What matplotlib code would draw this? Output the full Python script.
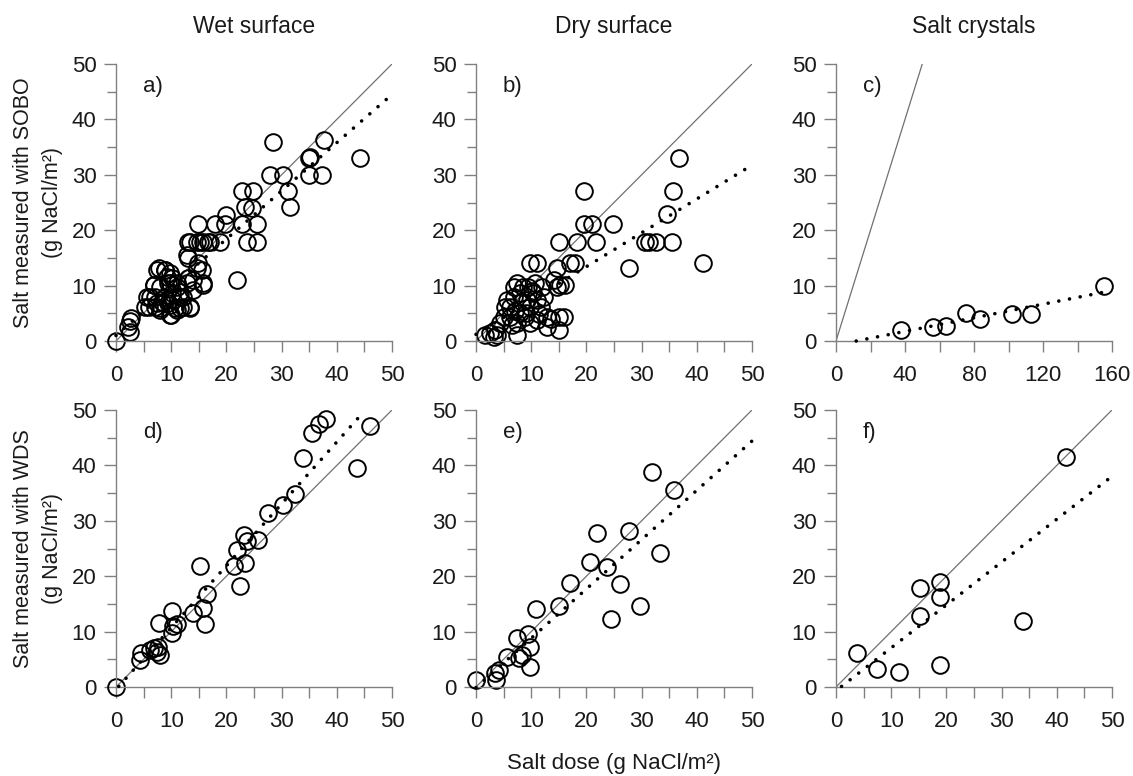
import matplotlib
matplotlib.use("Agg")
import matplotlib.pyplot as plt
import numpy as np
from matplotlib.ticker import MultipleLocator

plt.rcParams['font.family'] = ['Liberation Sans', 'DejaVu Sans']

# ---------------- data ----------------
col_titles = ["Wet surface", "Dry surface", "Salt crystals"]
row_labels = ["Salt measured with SOBO\n(g NaCl/m\u00b2)", "Salt measured with WDS\n(g NaCl/m\u00b2)"]
x_label = "Salt dose (g NaCl/m\u00b2)"
panel_tags = ["a)", "b)", "c)", "d)", "e)", "f)"]

a_x = [0, 2.5, 2.8, 2.2, 2.5, 5.6, 5.9, 6.8, 7.7, 7.1, 7.4, 8.0, 8.9, 9.2, 9.8, 10.1, 9.5, 10.0,
       10.7, 11.0, 11.6, 12.2, 13.4, 12.8, 13.1, 13.1, 14.0, 14.6, 15.8, 14.9, 14.6, 15.8, 17.0,
       18.8, 17.9, 20.0, 19.7, 21.9, 22.8, 22.8, 23.4, 23.7, 24.9, 24.6, 25.5, 25.5, 27.9, 28.5,
       30.3, 31.2, 31.5, 35.0, 35.1, 35.0, 37.4, 37.6, 44.2,
       12.8, 14.9, 15.5, 15.8, 7.4, 8.9, 9.8, 10.1, 11.0, 9.5, 8.0, 6.8, 6.2, 5.3, 7.1, 8.0, 9.8,
       11.6, 13.4, 12.2, 14.0, 13.1, 11.6, 10.4, 8.9, 8.3, 9.8, 11.0, 15.2, 16.7, 13.4]
a_y = [0, 3.6, 4.1, 2.6, 1.7, 8.0, 6.2, 10.1, 13.1, 8.0, 6.8, 5.9, 12.8, 11.6, 10.4, 8.6, 6.8, 4.7,
       5.9, 9.8, 8.0, 6.2, 6.2, 10.4, 14.9, 17.9, 11.0, 13.1, 10.1, 21.2, 17.9, 17.9, 17.9,
       17.9, 21.2, 22.7, 21.2, 11.1, 21.2, 27.0, 24.2, 17.9, 27.0, 24.0, 21.2, 17.9, 30.0, 35.9,
       30.0, 27.0, 24.1, 33.0, 33.3, 30.0, 30.0, 36.3, 33.0,
       15.5, 14.0, 12.8, 10.4, 12.8, 12.8, 12.2, 11.3, 10.4, 10.4, 9.8, 10.1, 8.0, 6.2, 6.2, 5.6, 4.7,
       5.9, 5.9, 8.0, 9.2, 11.3, 8.9, 7.4, 8.0, 7.1, 6.5, 5.6, 17.9, 17.9, 17.9]

b_x = [19.5, 19.5, 21.0, 24.9, 21.7, 18.3, 15.1, 9.8, 11.1, 17.1, 17.9, 14.7, 27.8, 30.7, 31.3,
       32.6, 35.5, 34.6, 35.6, 36.7, 41.2, 14.1, 15.3, 16.2, 14.7, 16.0, 15.0, 15.0, 12.9, 7.4,
       1.7, 2.6, 3.5, 3.8, 3.2,
       5.3, 6.2, 6.8, 7.4, 8.0, 8.6, 9.2, 9.8, 10.4, 11.1, 11.7, 12.3, 9.8, 11.1, 12.9, 6.2, 7.4,
       8.0, 8.9, 5.6, 6.8, 9.5, 10.7, 12.0, 4.4, 5.0, 7.1, 8.3, 9.0, 10.1, 13.5, 6.5, 11.5]
b_y = [27.0, 21.1, 21.1, 21.1, 17.9, 17.9, 17.9, 14.0, 14.0, 14.0, 14.0, 13.1, 13.1, 17.9, 17.9,
       17.9, 17.9, 23.0, 27.0, 33.0, 14.0, 11.0, 10.1, 10.1, 9.8, 4.4, 4.4, 2.0, 2.6, 1.1,
       1.1, 1.4, 2.0, 1.1, 0.8,
       6.2, 6.2, 9.8, 10.4, 8.6, 9.8, 7.4, 6.2, 8.6, 7.4, 6.2, 8.0, 3.2, 3.8, 4.4, 4.4, 3.2,
       5.0, 4.4, 7.4, 8.0, 9.8, 10.4, 9.8, 3.2, 4.4, 5.5, 7.0, 5.0, 9.0, 4.0, 2.8, 4.8]

c_x = [37.7, 56.3, 64.0, 75.6, 83.3, 102.1, 113.1, 155.4]
c_y = [2.0, 2.6, 2.7, 5.0, 3.9, 4.9, 4.9, 10.0]

d_x = [0, 4.3, 4.6, 6.2, 6.9, 7.6, 7.4, 7.9, 7.8, 10.1, 10.1, 10.4, 11.0, 14.0, 15.2, 15.8, 16.1,
       16.4, 21.3, 21.9, 22.5, 23.1, 23.4, 23.7, 25.8, 27.6, 30.3, 32.4, 33.9, 35.5, 36.7, 38.0,
       43.6, 46.0]
d_y = [0, 4.9, 6.1, 6.7, 7.0, 7.3, 6.4, 5.8, 11.6, 13.7, 9.8, 11.0, 11.3, 13.4, 21.8, 14.3, 11.3,
       16.7, 21.8, 24.8, 18.2, 27.5, 22.4, 26.3, 26.6, 31.4, 32.8, 34.8, 41.4, 45.9, 47.4, 48.3,
       39.5, 47.1]

e_x = [0, 3.5, 4.1, 3.7, 5.6, 7.4, 7.7, 8.4, 9.4, 9.8, 9.7, 10.9, 15.0, 17.1, 20.7, 22.0, 23.7,
       24.4, 26.0, 27.8, 29.7, 31.9, 33.3, 35.8]
e_y = [1.3, 2.5, 3.1, 1.3, 5.4, 8.9, 5.2, 5.8, 9.5, 7.3, 3.7, 14.1, 14.6, 18.8, 22.6, 27.8, 21.7,
       12.3, 18.6, 28.1, 14.6, 38.8, 24.2, 35.5]

f_x = [3.8, 7.5, 11.4, 15.2, 15.2, 18.9, 18.9, 18.9, 33.9, 41.6]
f_y = [6.1, 3.3, 2.7, 17.8, 12.9, 18.9, 16.3, 4.0, 12.0, 41.6]

# regression lines: (slope, intercept, x_start, x_end)
fit_a = (0.87, 1.0, 0.0, 50.0)
fit_b = (0.611, 1.2, 0.0, 50.0)
fit_c = (0.0614, -0.72, 11.7, 160.0)
fit_d = (1.117, -0.45, 0.5, 44.2)
fit_e = (0.89, -0.1, 0.0, 50.0)
fit_f = (0.774, -0.67, 1.0, 50.0)

series = [(a_x, a_y, fit_a), (b_x, b_y, fit_b), (c_x, c_y, fit_c),
          (d_x, d_y, fit_d), (e_x, e_y, fit_e), (f_x, f_y, fit_f)]

# ---------------- figure ----------------
W, H = 1133, 776
fig = plt.figure(figsize=(W / 100, H / 100), dpi=100)

lefts = [116, 476, 836]
row_bottoms = [341, 687]
aw, ah = 276, 277

gray = '#808080'
txt = '#1a1a1a'
axes = []
for r in range(2):
    for c in range(3):
        ax = fig.add_axes([lefts[c] / W, (H - row_bottoms[r]) / H, aw / W, ah / H])
        axes.append(ax)

for i, ax in enumerate(axes):
    xs, ys, fit = series[i]
    c = i % 3
    xmax = 160 if i == 2 else 50
    ax.set_xlim(0, xmax)
    ax.set_ylim(0, 50)
    # 1:1 line
    ax.plot([0, 50], [0, 50], color='#707070', lw=0.9, zorder=1)
    # regression line
    s, b0, x0, x1 = fit
    xx = np.array([x0, x1])
    ax.plot(xx, s * xx + b0, color='black', lw=2.6, linestyle=(0, (0.01, 3.0)),
            dash_capstyle='round', zorder=3, clip_on=False)
    # data
    ax.plot(xs, ys, 'o', mfc='none', mec='black', ms=12, mew=1.4, zorder=2, clip_on=False)

    for sp in ['top', 'right']:
        ax.spines[sp].set_visible(False)
    for sp in ['left', 'bottom']:
        ax.spines[sp].set_color(gray)
        ax.spines[sp].set_linewidth(1.0)
    if i == 2:
        ax.xaxis.set_major_locator(MultipleLocator(40))
        ax.xaxis.set_minor_locator(MultipleLocator(20))
    else:
        ax.xaxis.set_major_locator(MultipleLocator(10))
        ax.xaxis.set_minor_locator(MultipleLocator(5))
    ax.yaxis.set_major_locator(MultipleLocator(10))
    ax.yaxis.set_minor_locator(MultipleLocator(5))
    ax.tick_params(axis='both', which='both', direction='out', color=gray, width=1.0,
                   labelsize=16, labelcolor=txt)
    ax.tick_params(axis='y', which='major', length=9, pad=5)
    ax.tick_params(axis='y', which='minor', length=6.5)
    ax.tick_params(axis='x', which='major', length=8, pad=9)
    ax.tick_params(axis='x', which='minor', length=8)
    ax.text(0.097, 0.918, panel_tags[i], transform=ax.transAxes, ha='left', va='center',
            fontsize=16, color=txt)
    if i < 3:
        ax.set_title(col_titles[i], fontsize=16.5, pad=22, color=txt)
    if c == 0:
        ax.set_ylabel(row_labels[i // 3], fontsize=15.5, linespacing=1.45, labelpad=6.5,
                      color=txt)

fig.text(614 / W, 1 - 764 / H, x_label, ha='center', va='center', fontsize=16, color=txt)

fig.savefig('out.png', dpi=100)
